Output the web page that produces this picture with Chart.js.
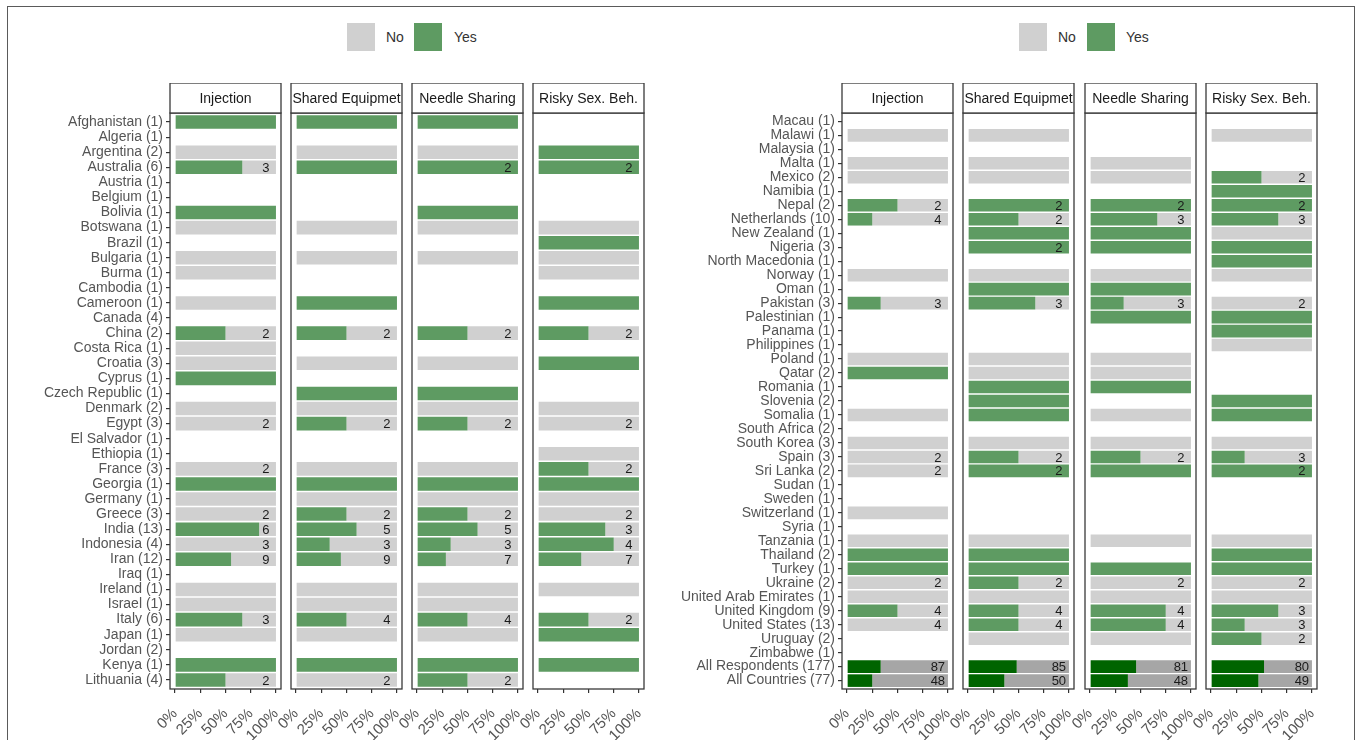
<!DOCTYPE html>
<html>
<head>
<meta charset="utf-8">
<script src="https://cdn.jsdelivr.net/npm/chart.js@4.4.1/dist/chart.umd.min.js"></script>
<style>
  body { margin: 0; background: #fff; width: 1357px; height: 740px; position: relative; overflow: hidden;
         font-family: "Liberation Sans", Arial, sans-serif; }
  #frame { position: absolute; left: 7px; top: 6px; width: 1348px; height: 800px; border: 1.5px solid #5a5a5a; box-sizing: border-box; }
  .sw { position: absolute; top: 23px; width: 28px; height: 28px; }
  .key { position: absolute; top: 28px; font-size: 14px; color: #333; line-height: 18px; }
  canvas { position: absolute; }
</style>
</head>
<body>
<div id="frame"></div>
<div class="sw" style="left:347px;background:#d0d0d0"></div><div class="key" style="left:386px">No</div>
<div class="sw" style="left:414px;background:#5e9b62"></div><div class="key" style="left:454px">Yes</div>
<div class="sw" style="left:1019px;background:#d0d0d0"></div><div class="key" style="left:1058px">No</div>
<div class="sw" style="left:1087px;background:#5e9b62"></div><div class="key" style="left:1126px">Yes</div>
<script>
const panelTitles = ['Injection', 'Shared Equipmet', 'Needle Sharing', 'Risky Sex. Beh.'];
const xTicks = [0, 25, 50, 75, 100];
const summaryRows = ['All Respondents (177)', 'All Countries (77)'];

const leftCountries = ['Afghanistan (1)', 'Algeria (1)', 'Argentina (2)', 'Australia (6)', 'Austria (1)', 'Belgium (1)',
  'Bolivia (1)', 'Botswana (1)', 'Brazil (1)', 'Bulgaria (1)', 'Burma (1)', 'Cambodia (1)', 'Cameroon (1)', 'Canada (4)',
  'China (2)', 'Costa Rica (1)', 'Croatia (3)', 'Cyprus (1)', 'Czech Republic (1)', 'Denmark (2)', 'Egypt (3)',
  'El Salvador (1)', 'Ethiopia (1)', 'France (3)', 'Georgia (1)', 'Germany (1)', 'Greece (3)', 'India (13)',
  'Indonesia (4)', 'Iran (12)', 'Iraq (1)', 'Ireland (1)', 'Israel (1)', 'Italy (6)', 'Japan (1)', 'Jordan (2)',
  'Kenya (1)', 'Lithuania (4)'];

// answers per cell (null = nobody answered) and how many of them said yes
const leftInjN      = [1,null,1,3,null,null,1,1,null,1,1,null,1,null,2,1,1,1,null,1,2,null,null,2,1,1,2,6,3,9,null,1,1,3,1,null,1,2];
const leftInjYes    = [1,null,0,2,null,null,1,0,null,0,0,null,0,null,1,0,0,1,null,0,0,null,null,0,1,0,0,5,0,5,null,0,0,2,0,null,1,1];
const leftShareN    = [1,null,1,1,null,null,null,1,null,1,null,null,1,null,2,null,1,null,1,1,2,null,null,1,1,1,2,5,3,9,null,1,1,4,1,null,1,2];
const leftShareYes  = [1,null,0,1,null,null,null,0,null,0,null,null,1,null,1,null,0,null,1,0,1,null,null,0,1,0,1,3,1,4,null,0,0,2,0,null,1,0];
const leftNeedleN   = [1,null,1,2,null,null,1,1,null,1,null,null,null,null,2,null,1,null,1,1,2,null,null,1,1,1,2,5,3,7,null,1,1,4,1,null,1,2];
const leftNeedleYes = [1,null,0,2,null,null,1,0,null,0,null,null,null,null,1,null,0,null,1,0,1,null,null,0,1,0,1,3,1,2,null,0,0,2,0,null,1,1];
const leftSexN      = [null,null,1,2,null,null,null,1,1,1,1,null,1,null,2,null,1,null,null,1,2,null,1,2,1,1,2,3,4,7,null,1,null,2,1,null,1,null];
const leftSexYes    = [null,null,1,2,null,null,null,0,1,0,0,null,1,null,1,null,1,null,null,0,0,null,0,1,1,0,0,2,3,3,null,0,null,1,1,null,1,null];

const rightCountries = ['Macau (1)', 'Malawi (1)', 'Malaysia (1)', 'Malta (1)', 'Mexico (2)', 'Namibia (1)', 'Nepal (2)',
  'Netherlands (10)', 'New Zealand (1)', 'Nigeria (3)', 'North Macedonia (1)', 'Norway (1)', 'Oman (1)', 'Pakistan (3)',
  'Palestinian (1)', 'Panama (1)', 'Philippines (1)', 'Poland (1)', 'Qatar (2)', 'Romania (1)', 'Slovenia (2)',
  'Somalia (1)', 'South Africa (2)', 'South Korea (3)', 'Spain (3)', 'Sri Lanka (2)', 'Sudan (1)', 'Sweden (1)',
  'Switzerland (1)', 'Syria (1)', 'Tanzania (1)', 'Thailand (2)', 'Turkey (1)', 'Ukraine (2)',
  'United Arab Emirates (1)', 'United Kingdom (9)', 'United States (13)', 'Uruguay (2)', 'Zimbabwe (1)',
  'All Respondents (177)', 'All Countries (77)'];

const rightInjN      = [null,1,null,1,1,null,2,4,null,null,null,1,null,3,null,null,null,1,1,null,null,1,null,1,2,2,null,null,1,null,1,1,1,2,1,4,4,null,null,87,48];
const rightInjYes    = [null,0,null,0,0,null,1,1,null,null,null,0,null,1,null,null,null,0,1,null,null,0,null,0,0,0,null,null,0,null,0,1,1,0,0,2,0,null,null,29,12];
const rightShareN    = [null,1,null,1,1,null,2,2,1,2,null,1,1,3,null,null,null,1,1,1,1,1,null,1,2,2,null,null,null,null,1,1,1,2,1,4,4,1,null,85,50];
const rightShareYes  = [null,0,null,0,0,null,2,1,1,2,null,0,1,2,null,null,null,0,0,1,1,1,null,0,1,2,null,null,null,null,0,1,1,1,0,2,2,0,null,41,18];
const rightNeedleN   = [null,null,null,1,1,null,2,3,1,1,null,1,1,3,1,null,null,1,1,1,null,1,null,1,2,1,null,null,null,null,1,null,1,2,1,4,4,1,null,81,48];
const rightNeedleYes = [null,null,null,0,0,null,2,2,1,1,null,0,1,1,1,null,null,0,0,1,null,0,null,0,1,1,null,null,null,null,0,null,1,0,0,3,3,0,null,37,18];
const rightSexN      = [null,1,null,null,2,1,2,3,1,1,1,1,null,2,1,1,1,null,null,null,1,1,null,1,3,2,null,null,null,null,1,1,1,2,1,3,3,2,null,80,49];
const rightSexYes    = [null,0,null,null,1,1,2,2,0,1,1,0,null,0,1,1,0,null,null,null,1,1,null,0,1,2,null,null,null,null,0,1,1,0,0,2,1,1,null,42,23];

const GREEN = '#5e9b62', GRAY = '#d0d0d0', DKGREEN = '#006400', DKGRAY = '#a6a6a6';
const FONT = '"Liberation Sans", Arial, sans-serif';
Chart.defaults.font.family = FONT;

const TOP = 83, STRIP = 30, BOTTOM_AXIS = 51, CANVAS_H = 740 - 83;

// strip header, panel border and the count labels
const panelDeco = {
  id: 'panelDeco',
  afterDraw(chart, args, o) {
    const {ctx, chartArea: a, scales: {x, y}} = chart;
    ctx.save();
    ctx.font = '13px ' + FONT;
    ctx.fillStyle = '#1a1a1a';
    ctx.textAlign = 'center';
    ctx.textBaseline = 'middle';
    o.n.forEach((n, i) => {
      if (n > 1) ctx.fillText(n, x.getPixelForValue(90), y.getPixelForValue(i) + 1);
    });
    ctx.strokeStyle = '#3a3a3a';
    ctx.lineWidth = 1.3;
    ctx.strokeRect(a.left, a.top, a.width, a.height);
    ctx.fillStyle = '#fff';
    ctx.fillRect(a.left, a.top - STRIP, a.width, STRIP);
    ctx.strokeRect(a.left, a.top - STRIP, a.width, STRIP);
    ctx.beginPath();
    ctx.rect(a.left + 1, a.top - STRIP, a.width - 2, STRIP);
    ctx.clip();
    ctx.fillStyle = '#1a1a1a';
    ctx.font = '14px ' + FONT;
    ctx.fillText(o.title, (a.left + a.right) / 2, a.top - STRIP / 2 + 1);
    ctx.restore();
  }
};

function makePanel(countries, nArr, yesArr, title, left, width, axisLeft) {
  const first = axisLeft != null;
  const padL = first ? 0 : 16, padR = 9;
  const axisW = first ? left - axisLeft : 0;
  const canvas = document.createElement('canvas');
  canvas.width = padL + axisW + width + padR;
  canvas.height = CANVAS_H;
  canvas.style.left = (left - axisW - padL) + 'px';
  canvas.style.top = TOP + 'px';
  document.body.appendChild(canvas);

  const yesPct = nArr.map((n, i) => n == null ? null : yesArr[i] / n * 100);
  const isSum = countries.map(c => summaryRows.includes(c));

  new Chart(canvas, {
    type: 'bar',
    data: {
      datasets: [
        { label: 'Yes', data: yesPct.map((v, i) => ({y: i, x: v})),
          backgroundColor: isSum.map(s => s ? DKGREEN : GREEN) },
        { label: 'No', data: yesPct.map((v, i) => ({y: i, x: v == null ? null : 100 - v})),
          backgroundColor: isSum.map(s => s ? DKGRAY : GRAY) }
      ]
    },
    options: {
      indexAxis: 'y',
      responsive: false,
      animation: false,
      barPercentage: 0.9,
      categoryPercentage: 1,
      layout: { padding: { left: padL, right: padR, top: STRIP, bottom: 0 } },
      plugins: {
        legend: { display: false },
        tooltip: { enabled: false },
        panelDeco: { n: nArr, title: title }
      },
      scales: {
        x: {
          type: 'linear', stacked: true, bounds: 'data', offset: false, min: -5, max: 105,
          afterBuildTicks: s => { s.ticks = xTicks.map(v => ({value: v})); },
          afterFit: s => { s.height = BOTTOM_AXIS; s.paddingLeft = 0; s.paddingRight = 0; },
          ticks: { autoSkip: false, minRotation: 45, maxRotation: 45, padding: 12, color: '#555',
                   font: { size: 15 }, callback: v => v + '%' },
          grid: { offset: false, drawOnChartArea: false, drawTicks: true, tickLength: 4, color: '#333', lineWidth: 1.2 },
          border: { display: false }
        },
        y: {
          type: 'linear', stacked: true, reverse: true, display: first, bounds: 'data', offset: false,
          min: -0.6, max: countries.length - 0.4,
          afterBuildTicks: s => { s.ticks = countries.map((c, i) => ({value: i})); },
          afterFit: s => { s.width = axisW; s.paddingTop = 0; s.paddingBottom = 0; },
          ticks: { autoSkip: false, padding: 3, color: '#555', font: { size: 14 },
                   callback: v => countries[v] },
          grid: { offset: false, drawOnChartArea: false, drawTicks: true, tickLength: 4, color: '#333', lineWidth: 1.2 },
          border: { display: false }
        }
      }
    },
    plugins: [panelDeco]
  });
}

const leftN = [leftInjN, leftShareN, leftNeedleN, leftSexN];
const leftYes = [leftInjYes, leftShareYes, leftNeedleYes, leftSexYes];
const rightN = [rightInjN, rightShareN, rightNeedleN, rightSexN];
const rightYes = [rightInjYes, rightShareYes, rightNeedleYes, rightSexYes];
const leftX = [170, 291, 412, 533];
const rightX = [842, 963, 1085, 1206];

panelTitles.forEach((t, k) => {
  makePanel(leftCountries, leftN[k], leftYes[k], t, leftX[k], 111, k === 0 ? 10 : null);
  makePanel(rightCountries, rightN[k], rightYes[k], t, rightX[k], 111, k === 0 ? 668 : null);
});
</script>
</body>
</html>
